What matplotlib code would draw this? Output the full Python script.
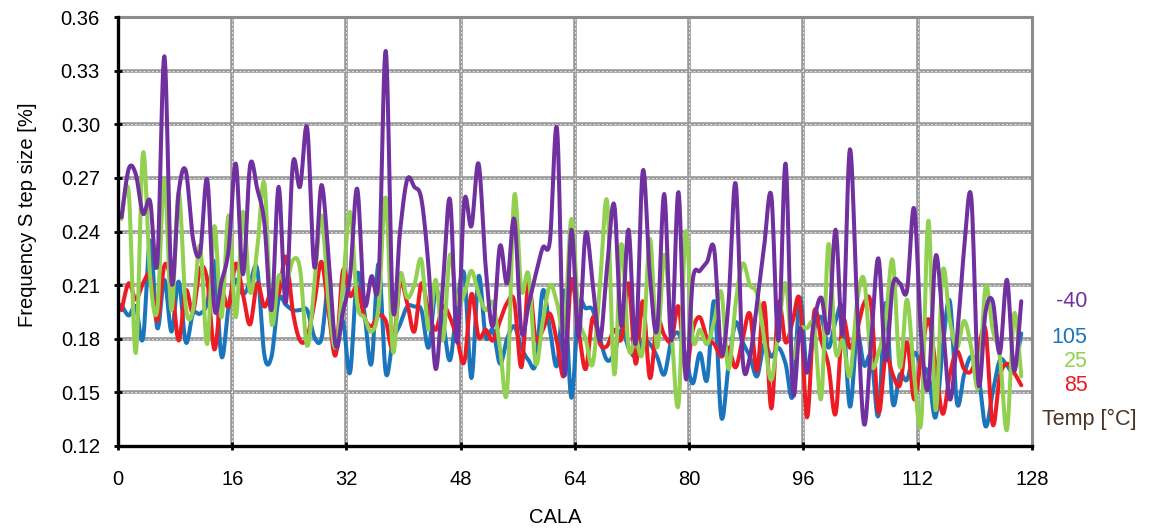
import numpy as np
import matplotlib.pyplot as plt

plt.rcParams['font.family'] = ['Liberation Sans', 'DejaVu Sans']

# CALA positions of the 127 points
cala = np.arange(127) + 0.5

# Frequency step size [%] per temperature
t_m40 = [0.248, 0.275, 0.272, 0.250, 0.257, 0.222, 0.338, 0.212, 0.262, 0.274,
         0.236, 0.228, 0.269, 0.197, 0.212, 0.230, 0.278, 0.216, 0.277, 0.264,
         0.245, 0.196, 0.265, 0.200, 0.278, 0.265, 0.298, 0.220, 0.266, 0.225,
         0.176, 0.195, 0.215, 0.264, 0.200, 0.215, 0.213, 0.341, 0.197, 0.240,
         0.269, 0.265, 0.258, 0.220, 0.163, 0.210, 0.258, 0.178, 0.257, 0.243,
         0.278, 0.220, 0.187, 0.232, 0.211, 0.247, 0.184, 0.199, 0.216, 0.231,
         0.235, 0.297, 0.160, 0.241, 0.181, 0.239, 0.210, 0.179, 0.220, 0.255,
         0.187, 0.241, 0.177, 0.274, 0.215, 0.185, 0.261, 0.179, 0.262, 0.158,
         0.213, 0.218, 0.223, 0.230, 0.172, 0.200, 0.267, 0.168, 0.170, 0.200,
         0.232, 0.260, 0.179, 0.278, 0.151, 0.186, 0.161, 0.190, 0.203, 0.184,
         0.241, 0.183, 0.286, 0.200, 0.132, 0.180, 0.225, 0.168, 0.210, 0.211,
         0.207, 0.253, 0.180, 0.153, 0.226, 0.190, 0.146, 0.180, 0.230, 0.259,
         0.155, 0.195, 0.201, 0.172, 0.213, 0.162, 0.201]

t_105 = [0.199, 0.193, 0.198, 0.180, 0.235, 0.186, 0.213, 0.184, 0.212, 0.178,
         0.194, 0.194, 0.200, 0.223, 0.170, 0.198, 0.213, 0.205, 0.211, 0.219,
         0.171, 0.170, 0.202, 0.199, 0.196, 0.196, 0.196, 0.181, 0.180, 0.209,
         0.174, 0.190, 0.161, 0.216, 0.195, 0.166, 0.222, 0.161, 0.179, 0.188,
         0.198, 0.198, 0.196, 0.175, 0.207, 0.190, 0.168, 0.200, 0.216, 0.158,
         0.215, 0.181, 0.185, 0.166, 0.180, 0.187, 0.175, 0.168, 0.166, 0.207,
         0.185, 0.165, 0.207, 0.147, 0.198, 0.197, 0.196, 0.180, 0.168, 0.172,
         0.185, 0.175, 0.170, 0.179, 0.177, 0.170, 0.160, 0.179, 0.183, 0.170,
         0.155, 0.172, 0.157, 0.201, 0.136, 0.165, 0.189, 0.178, 0.170, 0.159,
         0.177, 0.170, 0.175, 0.166, 0.148, 0.203, 0.162, 0.185, 0.192, 0.175,
         0.190, 0.196, 0.142, 0.182, 0.165, 0.170, 0.137, 0.200, 0.144, 0.160,
         0.157, 0.172, 0.165, 0.160, 0.136, 0.175, 0.201, 0.144, 0.160, 0.170,
         0.160, 0.131, 0.150, 0.168, 0.165, 0.162, 0.183]

t_25 = [0.247, 0.262, 0.172, 0.284, 0.215, 0.196, 0.269, 0.196, 0.262, 0.198,
        0.196, 0.232, 0.177, 0.243, 0.192, 0.249, 0.192, 0.251, 0.206, 0.230,
        0.267, 0.189, 0.215, 0.210, 0.224, 0.219, 0.176, 0.210, 0.249, 0.200,
        0.175, 0.210, 0.251, 0.200, 0.192, 0.184, 0.198, 0.259, 0.173, 0.216,
        0.203, 0.210, 0.224, 0.185, 0.213, 0.179, 0.227, 0.200, 0.205, 0.218,
        0.205, 0.196, 0.200, 0.175, 0.151, 0.260, 0.207, 0.216, 0.166, 0.190,
        0.210, 0.200, 0.185, 0.247, 0.194, 0.180, 0.166, 0.210, 0.257, 0.160,
        0.233, 0.175, 0.180, 0.173, 0.236, 0.175, 0.227, 0.185, 0.143, 0.240,
        0.180, 0.185, 0.177, 0.190, 0.206, 0.163, 0.200, 0.222, 0.210, 0.205,
        0.180, 0.157, 0.185, 0.211, 0.170, 0.185, 0.186, 0.187, 0.147, 0.233,
        0.173, 0.179, 0.159, 0.200, 0.213, 0.166, 0.172, 0.190, 0.224, 0.164,
        0.202, 0.160, 0.134, 0.246, 0.140, 0.218, 0.190, 0.175, 0.190, 0.175,
        0.153, 0.209, 0.185, 0.170, 0.129, 0.194, 0.159]

t_85 = [0.196, 0.211, 0.202, 0.211, 0.215, 0.190, 0.221, 0.211, 0.179, 0.207,
        0.195, 0.219, 0.213, 0.174, 0.205, 0.198, 0.222, 0.205, 0.188, 0.211,
        0.198, 0.207, 0.205, 0.226, 0.195, 0.179, 0.181, 0.200, 0.223, 0.195,
        0.171, 0.218, 0.204, 0.209, 0.192, 0.187, 0.193, 0.190, 0.175, 0.211,
        0.200, 0.184, 0.211, 0.195, 0.185, 0.198, 0.192, 0.180, 0.167, 0.205,
        0.181, 0.185, 0.179, 0.190, 0.200, 0.201, 0.164, 0.211, 0.180, 0.185,
        0.194, 0.178, 0.160, 0.213, 0.185, 0.163, 0.192, 0.177, 0.176, 0.185,
        0.180, 0.211, 0.166, 0.201, 0.158, 0.190, 0.182, 0.179, 0.198, 0.162,
        0.185, 0.192, 0.180, 0.177, 0.170, 0.175, 0.164, 0.180, 0.194, 0.162,
        0.200, 0.141, 0.200, 0.178, 0.190, 0.201, 0.136, 0.195, 0.179, 0.165,
        0.138, 0.190, 0.175, 0.185, 0.200, 0.198, 0.139, 0.170, 0.160, 0.154,
        0.178, 0.146, 0.170, 0.191, 0.165, 0.138, 0.160, 0.173, 0.163, 0.162,
        0.174, 0.185, 0.132, 0.159, 0.166, 0.161, 0.154]

series = [("105", t_105, "#1b75bc"), ("85", t_85, "#ed1c24"),
          ("25", t_25, "#92d050"), ("-40", t_m40, "#7030a0")]


def smooth(x, y, n=12):
    # Excel-like smoothed line (Catmull-Rom as Bezier segments)
    x = np.asarray(x, float)
    y = np.asarray(y, float)
    xp = np.concatenate([[x[0]], x, [x[-1]]])
    yp = np.concatenate([[y[0]], y, [y[-1]]])
    t = np.linspace(0, 1, n, endpoint=False)[:, None]
    xs, ys = [], []
    for arr, out in ((xp, xs), (yp, ys)):
        p0, p1, p2, p3 = arr[:-3], arr[1:-2], arr[2:-1], arr[3:]
        b1 = p1 + (p2 - p0) / 6
        b2 = p2 - (p3 - p1) / 6
        seg = ((1 - t) ** 3 * p1 + 3 * (1 - t) ** 2 * t * b1
               + 3 * (1 - t) * t ** 2 * b2 + t ** 3 * p2)
        out.append(np.concatenate([seg.T.ravel(), [arr[-2]]]))
    return xs[0], ys[0]


fig, ax = plt.subplots(figsize=(11.52, 5.3), dpi=100)
fig.subplots_adjust(left=0.1024, right=0.8958, top=0.9679, bottom=0.1585)

ax.set_xlim(0, 128)
ax.set_ylim(0.12, 0.36)
ax.set_xticks(np.arange(0, 129, 16))
ax.set_yticks(np.arange(0.12, 0.3601, 0.03))
ax.set_yticklabels(["%.2f" % v for v in np.arange(0.12, 0.3601, 0.03)])

# grid: thick grey lines with a fine white dash inside
for v in np.arange(0.15, 0.36, 0.03):
    ax.axhline(v, color="#999999", lw=2.6, zorder=1)
    ax.axhline(v, color="white", lw=0.5, ls=(0, (3, 3)), zorder=1.1)
for v in np.arange(16, 128, 16):
    ax.axvline(v, color="#999999", lw=2.6, zorder=1)
    ax.axvline(v, color="white", lw=0.5, ls=(0, (3, 3)), zorder=1.1)

for name, vals, col in series:
    sx, sy = smooth(cala, vals)
    ax.plot(sx, sy, color=col, lw=2.9, solid_capstyle="round", zorder=3)

for side in ["top", "right"]:
    ax.spines[side].set_color("#8c8c8c")
    ax.spines[side].set_linewidth(2.2)
for side in ["left", "bottom"]:
    ax.spines[side].set_color("black")
    ax.spines[side].set_linewidth(2.4)
    ax.spines[side].set_zorder(4)

ax.tick_params(axis="y", direction="inout", length=6, width=2, pad=10, labelsize=14.5)
ax.tick_params(axis="x", direction="inout", length=6, width=2, pad=14, labelsize=14.5)

ax.set_xlabel("CALA", fontsize=14.5)
ax.xaxis.set_label_coords(0.478, -0.145)
ax.set_ylabel("Frequency S tep size [%]", fontsize=14.5)
ax.yaxis.set_label_coords(-0.0985, 0.538)
ax.yaxis.label.set_va("center")

# temperature labels at the right
lab_y = {"-40": 0.336, "105": 0.254, "25": 0.196, "85": 0.142}
for name, vals, col in series:
    ax.text(1.061, lab_y[name], name, color=col, fontsize=15.5, ha="right",
            va="center", transform=ax.transAxes)
ax.text(1.011, 0.061, "Temp [°C]", color="#4a3426", fontsize=15.5, ha="left",
        va="center", transform=ax.transAxes)

fig.savefig("out.png")
